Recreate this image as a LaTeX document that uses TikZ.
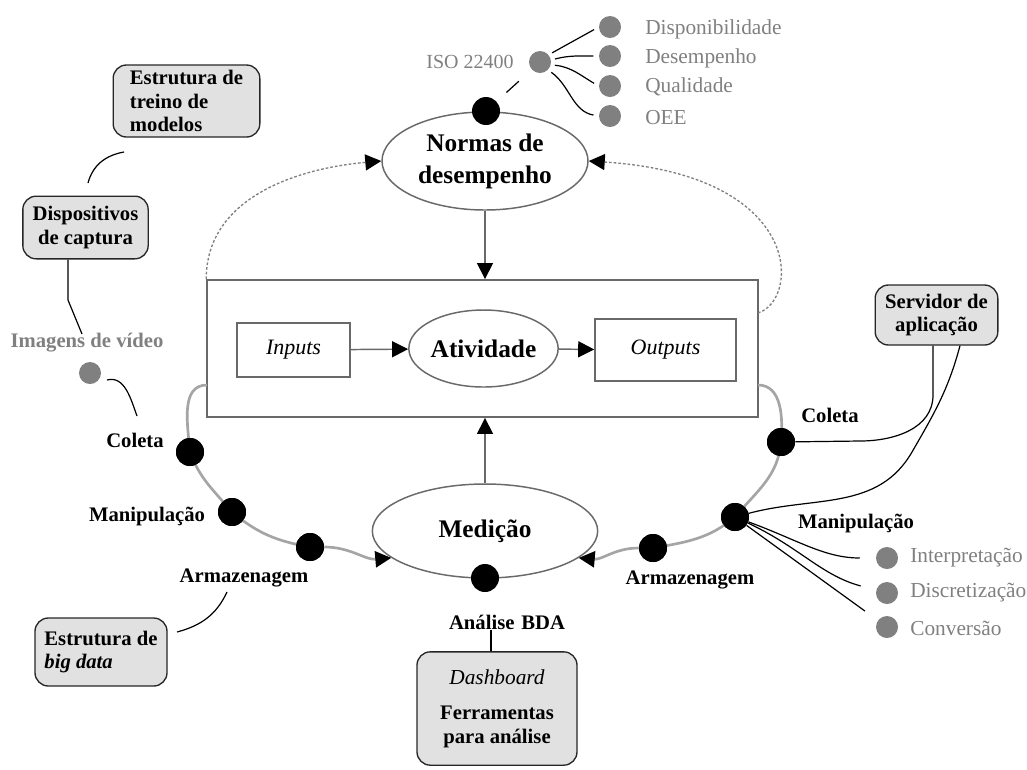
\documentclass[tikz,border=0pt]{standalone}
\usepackage{fontspec}
\setmainfont{Liberation Serif}
\usetikzlibrary{arrows.meta,shapes.geometric}
\definecolor{txtgray}{RGB}{128,128,128}
\definecolor{dotgray}{RGB}{128,128,128}
\definecolor{boxfill}{RGB}{225,225,225}
\definecolor{loopgray}{RGB}{165,165,165}
\definecolor{linegray}{RGB}{105,105,105}
\begin{document}
\begin{tikzpicture}[x=0.75pt,y=-0.75pt,
  lbl/.style={font=\fontsize{15.5}{17}\selectfont\bfseries, inner sep=0pt},
  glbl/.style={font=\fontsize{16}{18}\selectfont, text=txtgray, anchor=west, inner sep=0pt},
  bdot/.style={circle, fill=black, minimum size=21pt, inner sep=0pt},
  gdot/.style={circle, fill=dotgray, minimum size=16.5pt, inner sep=0pt},
  sbox/.style={draw=black!85, fill=boxfill, rounded corners=10pt, line width=1pt, inner sep=0pt,
               font=\fontsize{15.5}{17.5}\selectfont\bfseries},
  bigell/.style={ellipse, draw=linegray, line width=1.1pt, inner sep=0pt,
               font=\fontsize{19}{24}\selectfont\bfseries, align=center},
  plainbox/.style={draw=linegray, line width=1.2pt, inner sep=0pt,
               font=\fontsize{16.5}{18}\selectfont\itshape},
  loopline/.style={draw=loopgray, line width=2pt},
  conn/.style={draw=black, line width=0.9pt},
  tip/.style={-{Triangle[length=12pt,width=12pt,black]}},
  flow/.style={draw=linegray, line width=1.1pt, tip},
  loopflow/.style={draw=loopgray, line width=2pt, tip},
  dashflow/.style={draw=gray, line width=1pt, dash pattern=on 2pt off 1.5pt, tip}
]
\useasboundingbox (0,0) rectangle (1027,769);

% main structure
\node[bigell, minimum width=154.5pt, minimum height=73.5pt] (normas) at (485,161) {Normas de\\desempenho};
\node[draw=linegray, line width=1.4pt, minimum width=413pt, minimum height=102.75pt, inner sep=0pt] (act) at (482.5,348.5) {};
\node[plainbox, minimum width=84.75pt, minimum height=40.5pt] (inputs) at (293.5,350) {Inputs};
\node[ellipse, draw=linegray, line width=1.1pt, inner sep=0pt, minimum width=102.75pt, minimum height=57.75pt,
      font=\fontsize{19}{22}\selectfont\bfseries] (ativ) at (483.5,348.5) {Atividade};
\node[plainbox, minimum width=105.75pt, minimum height=46.5pt] (outputs) at (665.5,350) {Outputs};
\node[bigell, minimum width=169pt, minimum height=70.5pt] (medicao) at (485,531) {Medição};

\draw[flow] (normas) -- (act.north -| normas);
\draw[flow] (inputs) -- (ativ);
\draw[flow] (ativ) -- (outputs);
\draw[flow] (medicao.north) -- (act.south -| medicao.north);

% dashed feedback
\coordinate (rdash) at (758,313);
\draw[dashflow] (act.north west) to[out=90,in=185] (normas.west);
\draw[dashflow] (rdash) .. controls (800,300) and (805,175) .. (normas.east);

% loops
\coordinate (lstart) at (207,385);
\coordinate (rstart) at (758,385);
\node[bdot] (lcol) at (190,452) {};
\node[bdot] (lman) at (232,512) {};
\node[bdot] (larm) at (310,547) {};
\node[bdot] (rcol) at (781,442) {};
\node[bdot] (rman) at (735,517) {};
\node[bdot] (rarm) at (653,548) {};
\draw[loopline] (lstart) to[out=180,in=95] (lcol.center);
\draw[loopline] (lcol.center) to[out=-70,in=130] (lman.center);
\draw[loopline] (lman.center) to[out=-40,in=170] (larm.center);
\draw[loopflow] (larm.east) to[out=0,in=185] (medicao.196);
\draw[loopline] (rstart) to[out=0,in=85] (rcol.center);
\draw[loopline] (rcol.center) to[out=-95,in=50] (rman.center);
\draw[loopline] (rman.center) to[out=-140,in=10] (rarm.center);
\draw[loopflow] (rarm.west) to[out=180,in=-5] (medicao.-16);
\foreach \d in {lcol,lman,larm,rcol,rman,rarm}{\fill (\d) circle[radius=10.5pt];}

\node[bdot] (ntop) at (486,111) {};
\node[bdot] (mbot) at (485,578) {};

% loop labels
\node[lbl] (tlcol) at (135,440) {Coleta};
\node[lbl] (tlman) at (147,516) {Manipulação};
\node[lbl] (tlarm) at (244,578) {Armazenagem};
\node[lbl] (trcol) at (830,415) {Coleta};
\node[lbl] (trman) at (856,523) {Manipulação};
\node[lbl] (trarm) at (690,580) {Armazenagem};
\node[lbl] (tbda) at (507,622) {Análise\,\,BDA};

% ISO 22400
\node[font=\fontsize{15}{17}\selectfont, text=txtgray, inner sep=0pt] (iso) at (470,62) {ISO 22400};
\node[gdot] (isodot) at (540,62) {};
\node[gdot] (g1) at (610,27) {};
\node[gdot] (g2) at (610,56) {};
\node[gdot] (g3) at (610,86) {};
\node[gdot] (g4) at (610,116) {};
\node[glbl] at (645,29) {Disponibilidade};
\node[glbl] at (645,58) {Desempenho};
\node[glbl] at (645,87) {Qualidade};
\node[glbl] at (645,118) {OEE};
\draw[conn, shorten <=10pt, shorten >=13pt] (ntop) -- (isodot);
\draw[conn, shorten <=3pt, shorten >=4pt] (isodot.40) -- (g1.west);
\draw[conn, shorten <=3pt, shorten >=4pt] (isodot.10) to[out=15,in=180] (g2.west);
\draw[conn, shorten <=3pt, shorten >=4pt] (isodot.-15) to[out=-5,in=150] (g3.west);
\draw[conn, shorten <=3pt, shorten >=4pt] (isodot.-45) to[out=-35,in=170] (g4.west);

% left side
\node[sbox, minimum width=110pt, minimum height=54pt, align=left] (treino) at (186.5,101)
  {Estrutura de\\treino de\\modelos};
\node[sbox, minimum width=94pt, minimum height=47pt, align=center] (disp) at (85.5,227.5)
  {Dispositivos\\de captura};
\node[font=\fontsize{15.5}{17}\selectfont\bfseries, text=txtgray, inner sep=0pt] (img) at (87,343) {Imagens de vídeo};
\node[gdot] (imgdot) at (90,373) {};
\coordinate (c1) at (124,152);
\coordinate (c2) at (88,183);
\draw[conn] (c1) to[out=190,in=75] (c2);
\coordinate (c3) at (68,300);
\coordinate (c4) at (82,334);
\draw[conn] (disp.south -| 68,0) -- (c3) -- (c4);
\coordinate (c5) at (107,380);
\coordinate (c6) at (137,416);
\draw[conn] (c5) to[out=15,in=110] (c6);
\node[sbox, minimum width=99pt, minimum height=51pt, align=left] (bigdata) at (101,652)
  {Estrutura de\\\textit{big data}};
\coordinate (c7) at (227,592);
\coordinate (c8) at (177,632);
\draw[conn] (c7) to[out=-115,in=15] (c8);

% right side
\node[sbox, minimum width=92pt, minimum height=45pt, align=center] (serv) at (936.5,315)
  {Servidor de\\aplicação};
\draw[conn] (serv.south -| 933,0) -- (933,395) to[out=-90,in=0] (860,441) -- (rcol);
\draw[conn] (serv.south -| 960,0) to[out=-105,in=60] (912,452) to[out=-120,in=15] (rman);

\node[gdot] (i1) at (887,558) {};
\node[gdot] (i2) at (887,593) {};
\node[gdot] (i3) at (887,627) {};
\node[glbl] at (910,558) {Interpretação};
\node[glbl] at (910,593) {Discretização};
\node[glbl] at (910,628) {Conversão};
\draw[conn, shorten >=12pt] (rman) to[out=-20,in=180] (i1);
\draw[conn, shorten >=12pt] (rman) to[out=-25,in=165] (i2);
\draw[conn, shorten >=12pt] (rman) -- (i3);

% bottom
\node[sbox, minimum width=120pt, minimum height=85pt, align=center] (dash) at (497,708.5)
  {{\fontsize{16}{18}\selectfont\itshape\mdseries Dashboard}\\[9pt]Ferramentas\\para análise};
\draw[conn] (tbda.south -| 491,0) -- (dash.north -| 491,0);
\end{tikzpicture}
\end{document}
